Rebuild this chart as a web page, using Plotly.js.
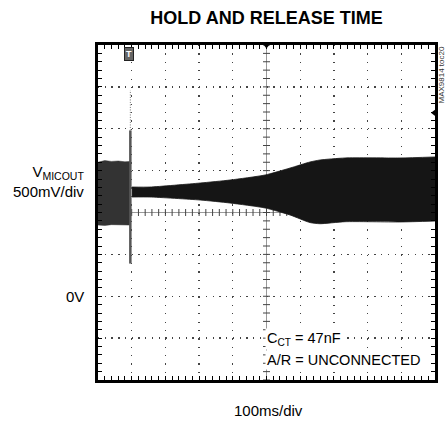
<!DOCTYPE html>
<html><head><meta charset="utf-8">
<script src="https://cdn.plot.ly/plotly-3.0.1.min.js"></script>
<style>html,body{margin:0;padding:0;background:#fff}</style>
</head><body><div id="chart" style="width:445px;height:422px"></div>
<script>
// ---- data (time in ms, level in mV) ----
const xRangeMs = [0, 1000];
const yRangeMv = [-1000, 3000];
// pre-trigger signal envelope
const preTimeMs = [0, 20, 40, 60, 80, 95];
const preUpperMv = [1600, 1620, 1610, 1615, 1605, 1610];
const preLowerMv = [850, 845, 855, 850, 848, 850];
// trigger transient
const spikeTimeMs = [96, 96];
const spikeThickMv = [390, 1980];
const spikeThinMv = [1980, 2460];
// hold and release envelope
const relTimeMs = [101, 154, 303, 392, 496, 570, 629, 659, 733, 896, 1000];
const relUpperMv = [1304, 1304, 1352, 1388, 1448, 1531, 1603, 1627, 1651, 1651, 1663];
const relLowerMv = [1185, 1185, 1149, 1113, 1054, 970, 880, 866, 890, 887, 898];
// markers
const trigTimeMs = 92, trigLevelMv = 2890;
const refLevelMv = 2190;
const centerTimeMs = 500, centerLevelMv = 1000;
const xLabel = '100ms/div';
const yLabel = 'V<sub>MICOUT</sub><br>500mV/div';
const zeroLabel = '0V';
const noteLines = ['C<sub>CT</sub> = 47nF', 'A/R = UNCONNECTED'];
const noteLevelsMv = [-510, -762];

// center crosshair tick positions, from axis range and minor step
const vTicksY = [], hTicksX = [];
for (let v = yRangeMv[0]; v <= yRangeMv[1]; v += 100) vTicksY.push(v);
for (let t = xRangeMs[0]; t <= xRangeMs[1]; t += 20) hTicksX.push(t);

const traces = [
  {x: [xRangeMs[0], xRangeMs[1]], y: [centerLevelMv, centerLevelMv], mode: 'lines', line: {color: '#999', width: 1.2}, hoverinfo: 'skip'},
  {x: [centerTimeMs, centerTimeMs], y: [yRangeMv[0], yRangeMv[1]], mode: 'lines', line: {color: '#999', width: 1}, hoverinfo: 'skip'},
  {x: vTicksY.map(() => centerTimeMs), y: vTicksY, mode: 'markers', marker: {symbol: 'line-ew', size: 5, line: {color: '#444', width: 1}}, hoverinfo: 'skip'},
  {x: hTicksX, y: hTicksX.map(() => centerLevelMv), mode: 'markers', marker: {symbol: 'line-ns', size: 5, line: {color: '#444', width: 1}}, hoverinfo: 'skip'},
  {x: preTimeMs, y: preLowerMv, mode: 'lines', line: {color: '#333', width: 0.5}, hoverinfo: 'skip'},
  {x: preTimeMs, y: preUpperMv, mode: 'lines', fill: 'tonexty', fillcolor: '#333', line: {color: '#333', width: 0.5}, hoverinfo: 'skip'},
  {x: relTimeMs, y: relLowerMv, mode: 'lines', line: {color: '#151515', width: 0.8, shape: 'spline', smoothing: 0.6}, hoverinfo: 'skip'},
  {x: relTimeMs, y: relUpperMv, mode: 'lines', fill: 'tonexty', fillcolor: '#151515', line: {color: '#151515', width: 0.8, shape: 'spline', smoothing: 0.6}, hoverinfo: 'skip'},
  {x: spikeTimeMs, y: spikeThickMv, mode: 'lines', line: {color: '#555', width: 2.5}, hoverinfo: 'skip'},
  {x: spikeTimeMs, y: spikeThinMv, mode: 'lines', line: {color: '#777', width: 1, dash: '1px,1.5px'}, hoverinfo: 'skip'},
  {x: [centerTimeMs], y: [yRangeMv[1]], mode: 'markers', marker: {symbol: 'triangle-down', size: 7, color: '#000'}, cliponaxis: false, hoverinfo: 'skip'},
  {x: [xRangeMs[1]], y: [refLevelMv], mode: 'markers', marker: {symbol: 'triangle-left', size: 8, color: '#000'}, cliponaxis: false, hoverinfo: 'skip'}
];

const axisBase = {
  showgrid: true, gridcolor: '#444', gridwidth: 1.3, zeroline: false,
  showline: true, linecolor: '#000', linewidth: 3, mirror: 'ticks',
  ticks: 'inside', ticklen: 4, tickcolor: '#000', tickwidth: 1,
  showticklabels: false, fixedrange: true
};

const labelFont = {family: 'Liberation Sans, Arial', size: 14.5, color: '#000'};

const layout = {
  width: 445, height: 422,
  margin: {l: 98, r: 10, t: 45, b: 42, pad: 0},
  paper_bgcolor: '#fff', plot_bgcolor: '#fff',
  showlegend: false,
  title: {text: '<b>HOLD AND RELEASE TIME</b>', x: 0.5, xref: 'paper', xanchor: 'center',
          y: 1 - 18 / 422, yref: 'container', yanchor: 'middle',
          font: {family: 'Liberation Sans, Arial', size: 18, color: '#000'}},
  xaxis: Object.assign({}, axisBase, {range: xRangeMs, tick0: 0, dtick: 100, griddash: '1.3px,7.08px',
          minor: {tick0: 0, dtick: 20, ticks: 'inside', ticklen: 4, tickcolor: '#000', tickwidth: 1, showgrid: false}}),
  yaxis: Object.assign({}, axisBase, {range: yRangeMv, tick0: -1000, dtick: 500, griddash: '1.3px,5.44px',
          minor: {tick0: -1000, dtick: 100, ticks: 'inside', ticklen: 4, tickcolor: '#000', tickwidth: 1, showgrid: false}}),
  annotations: [
    {text: xLabel, xref: 'paper', x: 0.505, yref: 'paper', y: 0, yshift: -30, xanchor: 'center', yanchor: 'middle', showarrow: false,
     font: {family: 'Liberation Sans, Arial', size: 15, color: '#000'}},
    {text: yLabel, xref: 'paper', x: 0, xshift: -12, yref: 'y', y: 1370, xanchor: 'right', yanchor: 'middle', align: 'right', showarrow: false,
     font: {family: 'Liberation Sans, Arial', size: 15, color: '#000'}},
    {text: zeroLabel, xref: 'paper', x: 0, xshift: -12, yref: 'y', y: 0, xanchor: 'right', yanchor: 'middle', showarrow: false,
     font: {family: 'Liberation Sans, Arial', size: 15, color: '#000'}},
    {text: noteLines[0], xref: 'x', x: 497, yref: 'y', y: noteLevelsMv[0], xanchor: 'left', yanchor: 'middle', showarrow: false,
     bgcolor: '#fff', borderpad: 1, font: labelFont},
    {text: noteLines[1], xref: 'x', x: 497, yref: 'y', y: noteLevelsMv[1], xanchor: 'left', yanchor: 'middle', showarrow: false,
     bgcolor: '#fff', borderpad: 1, font: labelFont},
    {text: '<b>T</b>', xref: 'x', x: trigTimeMs, yref: 'y', y: trigLevelMv, xanchor: 'center', yanchor: 'middle', showarrow: false,
     bgcolor: '#666', bordercolor: '#222', borderwidth: 1, borderpad: 1, font: {family: 'Liberation Sans, Arial', size: 9, color: '#fff'}},
    {text: 'MAX9814 toc20', xref: 'paper', x: 1, xshift: 6, yref: 'paper', y: 1, xanchor: 'center', yanchor: 'top', textangle: -90, showarrow: false,
     font: {family: 'Liberation Sans, Arial', size: 8, color: '#333'}}
  ]
};

Plotly.newPlot('chart', traces, layout, {staticPlot: true, displayModeBar: false});
</script></body></html>
